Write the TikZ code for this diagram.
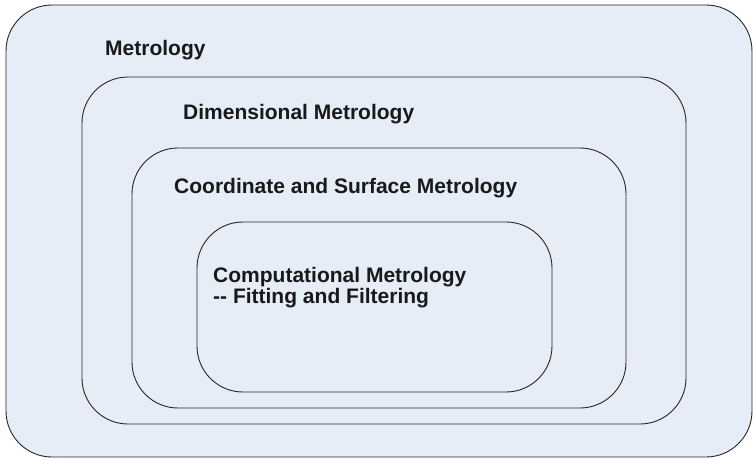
\documentclass[tikz,border=0pt]{standalone}
\usepackage{fontspec}
\setmainfont{Liberation Sans}
\definecolor{regionfill}{RGB}{230,237,247}
\begin{document}
\begin{tikzpicture}[x=1pt,y=1pt,line cap=round,line join=round]
  \useasboundingbox (0,0) rectangle (753,459);
  \tikzset{region/.style={draw=black!85,fill=regionfill,line width=0.9pt,rounded corners=46pt},
           label/.style={anchor=base west,inner sep=0pt,align=left,
                         font=\bfseries\fontsize{21}{16.5}\selectfont,text=black!90}}

  % Nested regions
  \draw[region] (6,2) rectangle (752,454);
  \draw[region] (82,35) rectangle (686,382);
  \draw[region] (132,51) rectangle (626,311);
  \draw[region] (197,67) rectangle (552,237);

  % Titles
  \node[label] (metro) at (105,403) {Metrology};
  \node[label] (dimen) at (183,340) {Dimensional Metrology};
  \node[label] (coord) at (174,266) {Coordinate and Surface Metrology};
  \node[label,anchor=north west] (comput) at (213,192) {Computational Metrology\\-{}- Fitting and Filtering};
\end{tikzpicture}
\end{document}
